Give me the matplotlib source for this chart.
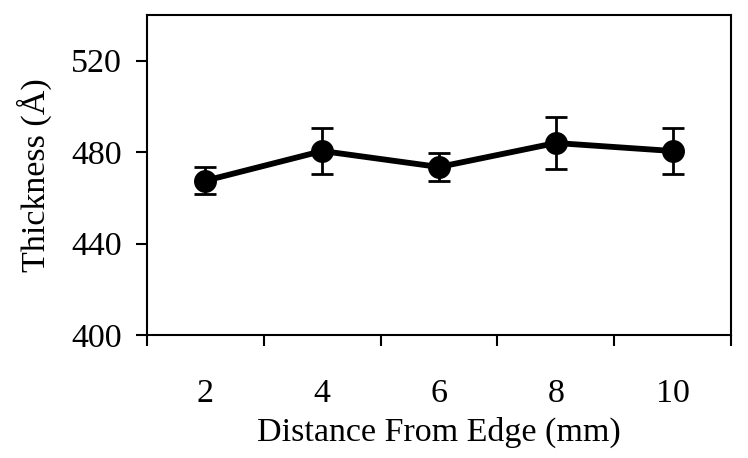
import numpy as np
import matplotlib.pyplot as plt
from matplotlib.ticker import FixedLocator, NullFormatter

distance = ["2", "4", "6", "8", "10"]
thickness = [467.5, 480.5, 473.5, 484.0, 480.5]
thickness_err = [6.0, 10.0, 6.0, 11.5, 10.0]

plt.rcParams['font.family'] = ['Liberation Serif', 'DejaVu Serif']

fig = plt.figure(figsize=(7.48, 4.58), dpi=100)
ax = fig.add_axes([0.1965, 0.2686, 0.7808, 0.6986])

x = np.arange(len(distance))
ax.errorbar(x, thickness, yerr=thickness_err, color='black', linewidth=4.2,
            marker='o', markersize=15.5, elinewidth=2.0, capsize=8, capthick=2.0)

ax.set_xlim(-0.5, len(distance) - 0.5)
ax.set_ylim(400, 540)
ax.set_yticks([400, 440, 480, 520])

# category axis: tick marks between categories, labels at centers
ax.xaxis.set_major_locator(FixedLocator(np.arange(len(distance) + 1) - 0.5))
ax.xaxis.set_major_formatter(NullFormatter())
ax.xaxis.set_minor_locator(FixedLocator(x))
ax.set_xticklabels(distance, minor=True)

ax.tick_params(axis='x', which='major', direction='out', length=8, width=1.5)
ax.tick_params(axis='x', which='minor', length=0, labelsize=24.5, pad=31)
ax.tick_params(axis='y', direction='out', length=8, width=1.5, labelsize=24.5, pad=10)

for s in ax.spines.values():
    s.set_linewidth(1.5)

ax.set_xlabel("Distance From Edge (mm)", fontsize=24.5, labelpad=6)
ax.set_ylabel("Thickness (Å)", fontsize=24.5, labelpad=14)

fig.savefig("out.png", dpi=100)
